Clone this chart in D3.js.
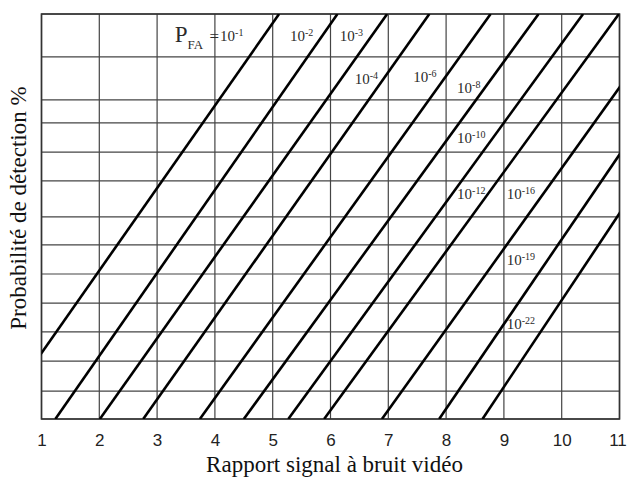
<!DOCTYPE html>
<html lang="fr">
<head>
<meta charset="UTF-8">
<title>Probabilité de détection</title>
<script src="https://d3js.org/d3.v7.min.js"></script>
<style>
  body { margin: 0; background: #fff; }
  svg { display: block; font-family: "Liberation Serif", "DejaVu Serif", serif; }
  .grid line { stroke: #444; stroke-width: 1.2; }
  .frame { fill: none; stroke: #333; stroke-width: 1.6; }
  .curve { stroke: #000; stroke-width: 2.6; fill: none; }
  .x-axis text { font-size: 17px; fill: #222; }
  .axis-title { font-size: 23px; fill: #111; text-anchor: middle; }
  .pfa { fill: #2a2a2a; }
</style>
</head>
<body>
<div id="chart"></div>
<script>
// x axis: video signal-to-noise ratio
const snrTicks = [1, 2, 3, 4, 5, 6, 7, 8, 9, 10, 11];
// horizontal grid levels (unlabelled probability scale, 0 = bottom, 1 = top)
const gridLevels = [0, 0.069, 0.143, 0.215, 0.286, 0.358, 0.430, 0.499, 0.588, 0.659, 0.731, 0.788, 0.894, 1];

// one straight line per false alarm probability
const pfaExponents = ["-1", "-2", "-3", "-4", "-6", "-8", "-10", "-12", "-16", "-19", "-22"];
const snrAtBottom = [0.20, 1.24, 2.01, 2.76, 3.74, 4.50, 5.27, 5.89, 6.89, 7.88, 8.63];
const snrAtTop = [5.11, 6.12, 6.98, 7.71, 8.77, 9.60, 10.37, 10.99, 11.91, 12.66, 13.30];

// where each "10^x" label sits
const labelSnr = [4.09, 5.30, 6.16, 6.42, 7.43, 8.19, 8.19, 8.19, 9.05, 9.05, 9.05];
const labelLevel = [0.934, 0.934, 0.934, 0.826, 0.831, 0.805, 0.681, 0.542, 0.542, 0.381, 0.221];

const width = 627, height = 478;
const margin = { top: 14, right: 7.5, bottom: 59, left: 41.5 };
const innerW = width - margin.left - margin.right;
const innerH = height - margin.top - margin.bottom;

const svg = d3.select("#chart").append("svg")
    .attr("width", width)
    .attr("height", height);

const g = svg.append("g")
    .attr("transform", `translate(${margin.left},${margin.top})`);

const x = d3.scaleLinear().domain([1, 11]).range([0, innerW]);
const y = d3.scaleLinear().domain([0, 1]).range([innerH, 0]);

svg.append("defs").append("clipPath")
    .attr("id", "plot-clip")
    .append("rect")
    .attr("width", innerW)
    .attr("height", innerH);

// grid
const grid = g.append("g").attr("class", "grid");
grid.selectAll("line.v")
    .data(snrTicks)
    .join("line")
    .attr("class", "v")
    .attr("x1", d => x(d)).attr("x2", d => x(d))
    .attr("y1", 0).attr("y2", innerH);
grid.selectAll("line.h")
    .data(gridLevels)
    .join("line")
    .attr("class", "h")
    .attr("x1", 0).attr("x2", innerW)
    .attr("y1", d => y(d)).attr("y2", d => y(d));

g.append("rect")
    .attr("class", "frame")
    .attr("width", innerW)
    .attr("height", innerH);

// Pfa lines
const lines = pfaExponents.map((e, i) => ({ e, x0: snrAtBottom[i], x1: snrAtTop[i] }));
g.append("g")
    .attr("clip-path", "url(#plot-clip)")
    .selectAll("line")
    .data(lines)
    .join("line")
    .attr("class", "curve")
    .attr("x1", d => x(d.x0)).attr("y1", y(0))
    .attr("x2", d => x(d.x1)).attr("y2", y(1));

// labels 10^x
const labels = g.selectAll("text.pfa")
    .data(pfaExponents)
    .join("text")
    .attr("class", "pfa")
    .attr("x", (d, i) => x(labelSnr[i]))
    .attr("y", (d, i) => y(labelLevel[i]));
labels.append("tspan").attr("font-size", 15).text("10");
labels.append("tspan").attr("font-size", 10).attr("dy", -5).text(d => d);

// "P_FA =" in front of the first label
const pfaTitle = g.append("text")
    .attr("class", "pfa")
    .attr("text-anchor", "end")
    .attr("x", x(labelSnr[0]) - 1)
    .attr("y", y(labelLevel[0]) + 1);
pfaTitle.append("tspan").attr("font-size", 23).text("P");
pfaTitle.append("tspan").attr("font-size", 13).attr("dy", 7).text("FA");
pfaTitle.append("tspan").attr("font-size", 17).attr("dx", 2).attr("dy", -7).text(" =");

// x axis tick labels
const xAxis = g.append("g")
    .attr("class", "x-axis")
    .attr("transform", `translate(0,${innerH})`)
    .call(d3.axisBottom(x).tickValues(snrTicks).tickSize(0).tickPadding(15));
xAxis.select(".domain").remove();
xAxis.selectAll("text").attr("font-family", null).attr("font-size", null);
// the last label sits against the right edge of the picture
xAxis.selectAll(".tick").filter(d => d === 11).select("text").attr("dx", -2);

// axis titles
svg.append("text")
    .attr("class", "axis-title")
    .attr("x", margin.left + innerW / 2 + 4)
    .attr("y", 472)
    .text("Rapport signal à bruit vidéo");

svg.append("text")
    .attr("class", "axis-title")
    .attr("transform", "translate(26,208) rotate(-90)")
    .text("Probabilité de détection %");
</script>
</body>
</html>
